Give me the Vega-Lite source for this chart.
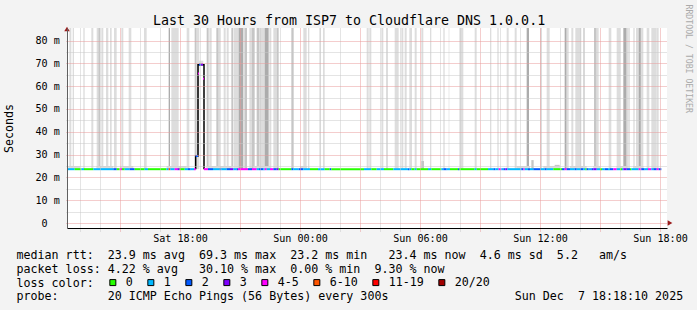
{
"$schema": "https://vega.github.io/schema/vega-lite/v6.json",
"width": 600, "height": 200,
"autosize": {"type": "none"},
"padding": {"left": 67, "top": 28, "right": 30, "bottom": 82},
"background": "#f3f3f3",
"datasets": {
"smoke": [
{"t":748,"t2":754,"lo":23.6,"hi":90,"shade":"L"},{"t":758,"t2":762,"lo":23.6,"hi":90,"shade":"L"},{"t":790,"t2":794,"lo":23.6,"hi":90,"shade":"L"},{"t":814,"t2":820,"lo":23.6,"hi":90,"shade":"L"},{"t":830,"t2":835,"lo":23.6,"hi":90,"shade":"L"},{"t":835,"t2":840,"lo":23.6,"hi":90,"shade":"M"},{"t":844,"t2":850,"lo":23.6,"hi":90,"shade":"L"},{"t":858,"t2":865,"lo":23.6,"hi":90,"shade":"L"},{"t":870,"t2":875,"lo":23.6,"hi":90,"shade":"L"},{"t":882,"t2":890,"lo":23.6,"hi":90,"shade":"L"},{"t":904,"t2":910,"lo":23.6,"hi":90,"shade":"L"},{"t":926,"t2":934,"lo":23.6,"hi":90,"shade":"L"},{"t":972,"t2":980,"lo":23.6,"hi":90,"shade":"L"},{"t":1046,"t2":1050,"lo":23.6,"hi":90,"shade":"D"},{"t":1054,"t2":1076,"lo":23.6,"hi":90,"shade":"L"},{"t":1100,"t2":1108,"lo":23.6,"hi":90,"shade":"L"},{"t":1124,"t2":1130,"lo":23.6,"hi":90,"shade":"M"},{"t":1130,"t2":1138,"lo":23.6,"hi":90,"shade":"L"},{"t":1160,"t2":1166,"lo":23.6,"hi":90,"shade":"M"},{"t":1168,"t2":1175,"lo":23.6,"hi":90,"shade":"L"},
{"t":1189,"t2":1196,"lo":23.6,"hi":90,"shade":"M"},{"t":1197,"t2":1200,"lo":23.6,"hi":90,"shade":"L"},{"t":1211,"t2":1217,"lo":23.6,"hi":90,"shade":"L"},{"t":1220,"t2":1226,"lo":23.6,"hi":90,"shade":"L"},{"t":1234,"t2":1240,"lo":23.6,"hi":90,"shade":"M"},{"t":1242,"t2":1256,"lo":23.6,"hi":90,"shade":"L"},{"t":1256,"t2":1270,"lo":23.6,"hi":90,"shade":"D"},{"t":1270,"t2":1274,"lo":23.6,"hi":90,"shade":"L"},{"t":1274,"t2":1281,"lo":23.6,"hi":90,"shade":"M"},{"t":1288,"t2":1296,"lo":23.6,"hi":90,"shade":"L"},{"t":1296,"t2":1304,"lo":23.6,"hi":90,"shade":"M"},{"t":1310,"t2":1317,"lo":23.6,"hi":90,"shade":"M"},{"t":1317,"t2":1334,"lo":23.6,"hi":90,"shade":"L"},{"t":1334,"t2":1346,"lo":23.6,"hi":90,"shade":"D"},{"t":1348,"t2":1354,"lo":23.6,"hi":90,"shade":"L"},{"t":1360,"t2":1370,"lo":23.6,"hi":90,"shade":"L"},{"t":1370,"t2":1376,"lo":23.6,"hi":90,"shade":"M"},{"t":1414,"t2":1421,"lo":23.6,"hi":90,"shade":"M"},{"t":1450,"t2":1460,"lo":23.6,"hi":90,"shade":"L"},{"t":1464,"t2":1468,"lo":23.6,"hi":90,"shade":"L"},{"t":1498,"t2":1502,"lo":23.6,"hi":90,"shade":"L"},{"t":1509,"t2":1514,"lo":23.6,"hi":90,"shade":"L"},
{"t":1640,"t2":1646,"lo":23.6,"hi":90,"shade":"L"},{"t":1648,"t2":1654,"lo":23.6,"hi":90,"shade":"L"},{"t":1684,"t2":1690,"lo":23.6,"hi":90,"shade":"L"},{"t":1698,"t2":1704,"lo":23.6,"hi":90,"shade":"L"},{"t":1724,"t2":1736,"lo":23.6,"hi":90,"shade":"L"},{"t":1744,"t2":1750,"lo":23.6,"hi":90,"shade":"L"},{"t":1754,"t2":1760,"lo":23.6,"hi":90,"shade":"L"},{"t":1768,"t2":1776,"lo":23.6,"hi":90,"shade":"L"},{"t":1784,"t2":1790,"lo":23.6,"hi":90,"shade":"L"},{"t":1804,"t2":1810,"lo":23.6,"hi":90,"shade":"L"},{"t":1830,"t2":1834,"lo":23.6,"hi":90,"shade":"L"},{"t":1870,"t2":1874,"lo":23.6,"hi":90,"shade":"L"},{"t":1886,"t2":1888,"lo":23.6,"hi":90,"shade":"L"},{"t":1918,"t2":1930,"lo":23.6,"hi":90,"shade":"L"},{"t":1964,"t2":1970,"lo":23.6,"hi":90,"shade":"L"},{"t":2010,"t2":2014,"lo":23.6,"hi":90,"shade":"L"},{"t":2032,"t2":2036,"lo":23.6,"hi":90,"shade":"L"},{"t":2060,"t2":2066,"lo":23.6,"hi":90,"shade":"L"},
{"t":2084,"t2":2090,"lo":23.6,"hi":90,"shade":"L"},{"t":2120,"t2":2127,"lo":23.6,"hi":90,"shade":"D"},{"t":2160,"t2":2166,"lo":23.6,"hi":90,"shade":"L"},{"t":2180,"t2":2189,"lo":23.6,"hi":90,"shade":"L"},{"t":2234,"t2":2240,"lo":23.6,"hi":90,"shade":"D"},{"t":2240,"t2":2246,"lo":23.6,"hi":90,"shade":"L"},{"t":2254,"t2":2260,"lo":23.6,"hi":90,"shade":"L"},{"t":2266,"t2":2284,"lo":23.6,"hi":90,"shade":"L"},{"t":2290,"t2":2294,"lo":23.6,"hi":90,"shade":"M"},{"t":2322,"t2":2330,"lo":23.6,"hi":90,"shade":"M"},{"t":2330,"t2":2336,"lo":23.6,"hi":90,"shade":"L"},{"t":2366,"t2":2374,"lo":23.6,"hi":90,"shade":"L"},{"t":2390,"t2":2400,"lo":23.6,"hi":90,"shade":"L"},{"t":2410,"t2":2420,"lo":23.6,"hi":90,"shade":"D"},{"t":2420,"t2":2424,"lo":23.6,"hi":90,"shade":"L"},{"t":2426,"t2":2428,"lo":23.6,"hi":90,"shade":"D"},{"t":2440,"t2":2444,"lo":23.6,"hi":90,"shade":"L"},{"t":2448,"t2":2456,"lo":23.6,"hi":90,"shade":"L"},{"t":2456,"t2":2464,"lo":23.6,"hi":90,"shade":"D"},{"t":2464,"t2":2470,"lo":23.6,"hi":90,"shade":"L"},{"t":2480,"t2":2488,"lo":23.6,"hi":90,"shade":"L"},{"t":2494,"t2":2510,"lo":23.6,"hi":90,"shade":"L"},{"t":2510,"t2":2516,"lo":23.6,"hi":90,"shade":"L"},
{"t":1137,"t2":1150,"lo":69.5,"hi":71.2,"shade":"L"},{"t":1804,"t2":1812,"lo":23.6,"hi":27.2,"shade":"M"},{"t":2134,"t2":2141,"lo":23.6,"hi":27.6,"shade":"M"},{"t":2204,"t2":2219,"lo":23.6,"hi":25.5,"shade":"M"},
{"t":745,"t2":780,"lo":23.6,"hi":25.0,"shade":"L"},{"t":830,"t2":880,"lo":23.6,"hi":25.0,"shade":"L"},{"t":900,"t2":940,"lo":23.6,"hi":25.0,"shade":"L"},{"t":1040,"t2":1100,"lo":23.6,"hi":25.0,"shade":"L"},{"t":1160,"t2":1240,"lo":23.6,"hi":25.0,"shade":"L"},{"t":1300,"t2":1350,"lo":23.6,"hi":25.0,"shade":"L"},{"t":1440,"t2":1460,"lo":23.6,"hi":25.0,"shade":"L"},{"t":2090,"t2":2130,"lo":23.6,"hi":25.0,"shade":"L"},{"t":2170,"t2":2220,"lo":23.6,"hi":25.0,"shade":"L"},{"t":2250,"t2":2300,"lo":23.6,"hi":25.0,"shade":"L"},{"t":2320,"t2":2340,"lo":23.6,"hi":25.0,"shade":"L"},{"t":2390,"t2":2420,"lo":23.6,"hi":25.0,"shade":"L"},{"t":2440,"t2":2470,"lo":23.6,"hi":25.0,"shade":"L"}
],
"median": [
{"t":741,"t2":764,"rtt":23.6,"loss":"1"},{"t":764,"t2":784,"rtt":23.6,"loss":"0"},{"t":784,"t2":792,"rtt":23.6,"loss":"1"},{"t":792,"t2":820,"rtt":23.6,"loss":"0"},{"t":820,"t2":880,"rtt":23.6,"loss":"1"},{"t":880,"t2":890,"rtt":23.6,"loss":"2"},{"t":890,"t2":899,"rtt":23.6,"loss":"0"},{"t":899,"t2":906,"rtt":23.6,"loss":"4-5"},{"t":906,"t2":914,"rtt":23.6,"loss":"0"},{"t":914,"t2":929,"rtt":23.6,"loss":"1"},{"t":929,"t2":944,"rtt":23.6,"loss":"2"},{"t":944,"t2":974,"rtt":23.6,"loss":"0"},{"t":974,"t2":984,"rtt":23.6,"loss":"1"},{"t":984,"t2":1039,"rtt":23.6,"loss":"0"},{"t":1039,"t2":1046,"rtt":23.6,"loss":"1"},{"t":1046,"t2":1051,"rtt":23.6,"loss":"6-10"},{"t":1051,"t2":1064,"rtt":23.6,"loss":"1"},{"t":1064,"t2":1072,"rtt":23.6,"loss":"4-5"},{"t":1072,"t2":1079,"rtt":23.6,"loss":"3"},{"t":1079,"t2":1094,"rtt":23.6,"loss":"0"},{"t":1094,"t2":1104,"rtt":23.6,"loss":"1"},{"t":1104,"t2":1112,"rtt":23.6,"loss":"2"},{"t":1112,"t2":1122,"rtt":23.6,"loss":"1"},{"t":1122,"t2":1127,"rtt":23.6,"loss":"4-5"},
{"t":1127,"t2":1134,"rtt":29.4,"loss":"2"},{"t":1134,"t2":1137,"rtt":65.6,"loss":"4-5"},{"t":1137,"t2":1143,"rtt":69.5,"loss":"2"},{"t":1143,"t2":1149,"rtt":69.5,"loss":"3"},{"t":1149,"t2":1152,"rtt":63.3,"loss":"4-5"},
{"t":1152,"t2":1164,"rtt":23.6,"loss":"4-5"},{"t":1164,"t2":1179,"rtt":23.6,"loss":"2"},{"t":1179,"t2":1199,"rtt":23.6,"loss":"1"},{"t":1199,"t2":1204,"rtt":23.6,"loss":"2"},{"t":1204,"t2":1220,"rtt":23.6,"loss":"1"},{"t":1220,"t2":1230,"rtt":23.6,"loss":"2"},{"t":1230,"t2":1240,"rtt":23.6,"loss":"3"},{"t":1240,"t2":1250,"rtt":23.6,"loss":"1"},{"t":1250,"t2":1254,"rtt":23.6,"loss":"2"},{"t":1254,"t2":1284,"rtt":23.6,"loss":"4-5"},{"t":1284,"t2":1296,"rtt":23.6,"loss":"2"},{"t":1296,"t2":1310,"rtt":23.6,"loss":"4-5"},{"t":1310,"t2":1317,"rtt":23.6,"loss":"1"},{"t":1317,"t2":1330,"rtt":23.6,"loss":"2"},{"t":1330,"t2":1334,"rtt":23.6,"loss":"1"},{"t":1334,"t2":1340,"rtt":23.6,"loss":"4-5"},{"t":1340,"t2":1350,"rtt":23.6,"loss":"1"},{"t":1350,"t2":1360,"rtt":23.6,"loss":"4-5"},{"t":1360,"t2":1370,"rtt":23.6,"loss":"2"},{"t":1370,"t2":1376,"rtt":23.6,"loss":"3"},{"t":1376,"t2":1414,"rtt":23.6,"loss":"0"},{"t":1414,"t2":1420,"rtt":23.6,"loss":"2"},{"t":1420,"t2":1436,"rtt":23.6,"loss":"1"},{"t":1436,"t2":1450,"rtt":23.6,"loss":"2"},{"t":1450,"t2":1470,"rtt":23.6,"loss":"1"},{"t":1470,"t2":1494,"rtt":23.6,"loss":"0"},{"t":1494,"t2":1514,"rtt":23.6,"loss":"1"},{"t":1514,"t2":1529,"rtt":23.6,"loss":"0"},{"t":1529,"t2":1534,"rtt":23.6,"loss":"2"},{"t":1534,"t2":1632,"rtt":23.6,"loss":"0"},
{"t":1632,"t2":1654,"rtt":23.6,"loss":"1"},{"t":1654,"t2":1670,"rtt":23.6,"loss":"0"},{"t":1670,"t2":1692,"rtt":23.6,"loss":"1"},{"t":1692,"t2":1720,"rtt":23.6,"loss":"0"},{"t":1720,"t2":1764,"rtt":23.6,"loss":"1"},{"t":1764,"t2":1768,"rtt":23.6,"loss":"2"},{"t":1768,"t2":1774,"rtt":23.6,"loss":"1"},{"t":1774,"t2":1784,"rtt":23.6,"loss":"0"},{"t":1784,"t2":1790,"rtt":23.6,"loss":"1"},{"t":1790,"t2":1824,"rtt":23.6,"loss":"0"},{"t":1824,"t2":1834,"rtt":23.6,"loss":"1"},{"t":1834,"t2":1864,"rtt":23.6,"loss":"0"},{"t":1864,"t2":1870,"rtt":23.6,"loss":"1"},{"t":1870,"t2":1880,"rtt":23.6,"loss":"2"},{"t":1880,"t2":1890,"rtt":23.6,"loss":"1"},{"t":1890,"t2":1914,"rtt":23.6,"loss":"0"},{"t":1914,"t2":1918,"rtt":23.6,"loss":"2"},{"t":1918,"t2":1964,"rtt":23.6,"loss":"0"},{"t":1964,"t2":1970,"rtt":23.6,"loss":"1"},{"t":1970,"t2":2004,"rtt":23.6,"loss":"0"},{"t":2004,"t2":2020,"rtt":23.6,"loss":"1"},{"t":2020,"t2":2026,"rtt":23.6,"loss":"2"},{"t":2026,"t2":2036,"rtt":23.6,"loss":"1"},{"t":2036,"t2":2044,"rtt":23.6,"loss":"4-5"},{"t":2044,"t2":2050,"rtt":23.6,"loss":"1"},{"t":2050,"t2":2056,"rtt":23.6,"loss":"2"},{"t":2056,"t2":2062,"rtt":23.6,"loss":"3"},{"t":2062,"t2":2104,"rtt":23.6,"loss":"1"},
{"t":2104,"t2":2110,"rtt":23.6,"loss":"2"},{"t":2110,"t2":2114,"rtt":23.6,"loss":"4-5"},{"t":2114,"t2":2124,"rtt":23.6,"loss":"1"},{"t":2124,"t2":2130,"rtt":23.6,"loss":"2"},{"t":2130,"t2":2140,"rtt":23.6,"loss":"1"},{"t":2140,"t2":2160,"rtt":23.6,"loss":"2"},{"t":2160,"t2":2174,"rtt":23.6,"loss":"1"},{"t":2174,"t2":2180,"rtt":23.6,"loss":"2"},{"t":2180,"t2":2200,"rtt":23.6,"loss":"1"},{"t":2200,"t2":2226,"rtt":23.6,"loss":"0"},{"t":2226,"t2":2234,"rtt":23.6,"loss":"2"},{"t":2234,"t2":2240,"rtt":23.6,"loss":"4-5"},{"t":2240,"t2":2250,"rtt":23.6,"loss":"2"},{"t":2250,"t2":2264,"rtt":23.6,"loss":"1"},{"t":2264,"t2":2270,"rtt":23.6,"loss":"2"},{"t":2270,"t2":2280,"rtt":23.6,"loss":"1"},{"t":2280,"t2":2290,"rtt":23.6,"loss":"2"},{"t":2290,"t2":2296,"rtt":23.6,"loss":"1"},{"t":2296,"t2":2300,"rtt":23.6,"loss":"0"},{"t":2300,"t2":2306,"rtt":23.6,"loss":"2"},{"t":2306,"t2":2314,"rtt":23.6,"loss":"1"},{"t":2314,"t2":2320,"rtt":23.6,"loss":"2"},{"t":2320,"t2":2330,"rtt":23.6,"loss":"3"},{"t":2330,"t2":2340,"rtt":23.6,"loss":"1"},{"t":2340,"t2":2346,"rtt":23.6,"loss":"0"},{"t":2346,"t2":2354,"rtt":23.6,"loss":"1"},{"t":2354,"t2":2364,"rtt":23.6,"loss":"2"},{"t":2364,"t2":2370,"rtt":23.6,"loss":"1"},{"t":2370,"t2":2380,"rtt":23.6,"loss":"2"},{"t":2380,"t2":2390,"rtt":23.6,"loss":"4-5"},{"t":2390,"t2":2400,"rtt":23.6,"loss":"1"},{"t":2400,"t2":2406,"rtt":23.6,"loss":"0"},{"t":2406,"t2":2410,"rtt":23.6,"loss":"1"},{"t":2410,"t2":2420,"rtt":23.6,"loss":"3"},{"t":2420,"t2":2430,"rtt":23.6,"loss":"2"},{"t":2430,"t2":2434,"rtt":23.6,"loss":"0"},{"t":2434,"t2":2456,"rtt":23.6,"loss":"1"},{"t":2456,"t2":2464,"rtt":23.6,"loss":"4-5"},{"t":2464,"t2":2474,"rtt":23.6,"loss":"2"},{"t":2474,"t2":2484,"rtt":23.6,"loss":"1"},{"t":2484,"t2":2494,"rtt":23.6,"loss":"4-5"},{"t":2494,"t2":2500,"rtt":23.6,"loss":"1"},{"t":2500,"t2":2510,"rtt":23.6,"loss":"2"},{"t":2510,"t2":2516,"rtt":23.6,"loss":"4-5"},{"t":2516,"t2":2524,"rtt":23.6,"loss":"2"}
],
"peak": [
{"i":0,"t":1127,"rtt":23.6},{"i":1,"t":1127,"rtt":29.4},{"i":2,"t":1134,"rtt":29.4},{"i":3,"t":1134,"rtt":69.4},{"i":4,"t":1152,"rtt":69.4},{"i":5,"t":1152,"rtt":23.6}
]
},
"resolve": {"axis": {"x": "independent", "y": "independent"}},
"layer": [
{
"data": {"name": "smoke"},
"mark": {"type": "rect", "clip": true},
"encoding": {
"x": {"field": "t", "type": "quantitative", "scale": {"domain": [741, 2541], "nice": false, "zero": false},
 "axis": {
  "values": [780,840,900,960,1020,1080,1140,1200,1260,1320,1380,1440,1500,1560,1620,1680,1740,1800,1860,1920,1980,2040,2100,2160,2220,2280,2340,2400,2460,2520],
  "labelExpr": "datum.value === 1080 ? 'Sat 18:00' : datum.value === 1440 ? 'Sun 00:00' : datum.value === 1800 ? 'Sun 06:00' : datum.value === 2160 ? 'Sun 12:00' : datum.value === 2520 ? 'Sun 18:00' : ''",
  "labelFont": "DejaVu Sans Mono", "labelFontSize": 10.1, "labelColor": "#000000", "labelPadding": 2, "labelFlush": false, "labelOverlap": false,
  "tickSize": 3, "tickDash": [1,1],
  "tickColor": {"condition": {"test": "datum.value % 180 === 0", "value": "#e89a9a"}, "value": "#c8c8c8"},
  "grid": true, "gridDash": [1,1],
  "gridColor": {"condition": {"test": "datum.value % 180 === 0", "value": "#e89a9a"}, "value": "#c8c8c8"},
  "domainColor": "#000000",
  "title": ["median rtt:\u00a0\u00a023.9 ms avg\u00a0\u00a069.3 ms max\u00a0\u00a023.2 ms min\u00a0\u00a0\u00a023.4 ms now\u00a0\u00a04.6 ms sd\u00a0\u00a05.2\u00a0\u00a0\u00a0am/s", "packet loss: 4.22 % avg\u00a0\u00a0\u00a030.10 % max\u00a0\u00a00.00 % min\u00a0\u00a09.30 % now", "loss color:", "probe:\u00a0\u00a0\u00a0\u00a0\u00a0\u00a0\u00a020 ICMP Echo Pings (56 Bytes) every 300s\u00a0\u00a0\u00a0\u00a0\u00a0\u00a0\u00a0\u00a0\u00a0\u00a0\u00a0\u00a0\u00a0\u00a0\u00a0\u00a0\u00a0\u00a0Sun Dec\u00a0\u00a07 18:18:10 2025"],
  "titleFont": "DejaVu Sans Mono", "titleFontSize": 11.66, "titleFontWeight": "normal", "titleColor": "#000000",
  "titleAnchor": "start", "titleAlign": "left", "titleBaseline": "alphabetic", "titleX": -51, "titleY": 30.7, "titleLineHeight": 13.7,
  "zindex": 1
 }},
"x2": {"field": "t2"},
"y": {"field": "lo", "type": "quantitative", "scale": {"domain": [0, 83.33333], "nice": false, "zero": true},
 "axis": {
  "values": [0,5,10,15,20,25,30,35,40,45,50,55,60,65,70,75,80],
  "labelExpr": "datum.value % 10 === 0 ? (datum.value === 0 ? '0\u00a0\u00a0\u200b' : datum.value + ' m') : ''",
  "labelFont": "DejaVu Sans Mono", "labelFontSize": 10.1, "labelColor": "#000000", "labelPadding": 5.7, "labelOverlap": false, "labelFlush": false,
  "tickSize": 2, "tickDash": [1,1],
  "tickColor": {"condition": {"test": "datum.value % 10 === 0", "value": "#e89a9a"}, "value": "#c8c8c8"},
  "grid": true, "gridDash": [1,1],
  "gridColor": {"condition": {"test": "datum.value % 10 === 0", "value": "#e89a9a"}, "value": "#c8c8c8"},
  "domainColor": "#606060",
  "title": "Seconds", "titleFont": "DejaVu Sans Mono", "titleFontSize": 11.66, "titleFontWeight": "normal", "titleColor": "#000000",
  "titleAngle": 270, "titleAlign": "center", "titleBaseline": "middle", "titleX": -57.5, "titleY": 100,
  "zindex": 1
 }},
"y2": {"field": "hi"},
"fill": {"field": "shade", "type": "nominal", "scale": {"domain": ["L","M","D"], "range": ["#dddddd","#c6c6c6","#acacac"]}, "legend": null}
}
},
{
"data": {"name": "peak"},
"mark": {"type": "line", "color": "#000000", "strokeWidth": 1.5},
"encoding": {
"x": {"field": "t", "type": "quantitative", "axis": null},
"y": {"field": "rtt", "type": "quantitative", "axis": null},
"order": {"field": "i", "type": "quantitative"}
}
},
{
"data": {"name": "median"},
"mark": {"type": "bar", "orient": "horizontal", "size": 2},
"encoding": {
"x": {"field": "t", "type": "quantitative", "axis": null},
"x2": {"field": "t2"},
"y": {"field": "rtt", "type": "quantitative", "axis": null},
"color": {"field": "loss", "type": "nominal",
 "scale": {"domain": ["0","1","2","3","4-5","6-10","11-19","20/20"], "range": ["#26ff00","#00b8ff","#0059ff","#7e00ff","#ff00ff","#ff5500","#ff0000","#a10000"]},
 "legend": {
  "orient": "none", "legendX": 40, "legendY": 248.5, "direction": "horizontal",
  "title": null,
  "labelFont": "DejaVu Sans Mono", "labelFontSize": 11.66, "labelColor": "#000000", "labelOffset": 7,
  "columnPadding": 12, "padding": 0,
  "symbolType": "square", "symbolSize": 36, "symbolStrokeColor": "#000000", "symbolStrokeWidth": 1, "symbolOpacity": 1
 }}
}
},
{
"data": {"values": [{}]},
"mark": {"type": "point", "shape": "triangle-right", "filled": true, "color": "#9b1b1b", "opacity": 1, "size": 30, "xOffset": 3},
"encoding": {
"x": {"datum": 2541, "axis": {"orient": "top", "title": "Last 30 Hours from ISP7 to Cloudflare DNS 1.0.0.1", "labels": false, "ticks": false, "domain": false, "grid": false,
  "titleFont": "DejaVu Sans Mono", "titleFontSize": 13.3, "titleFontWeight": "normal", "titleColor": "#000000",
  "titleX": 281.5, "titleY": -4, "titleAlign": "center", "titleAnchor": "middle", "titleBaseline": "alphabetic"}},
"y": {"datum": 0, "axis": null}
}
},
{
"data": {"values": [{}]},
"mark": {"type": "point", "shape": "triangle-up", "filled": true, "color": "#9b1b1b", "opacity": 1, "size": 30, "yOffset": -4},
"encoding": {
"x": {"datum": 741, "axis": null},
"y": {"datum": 83.33333, "axis": {"orient": "right", "title": "RRDTOOL / TOBI OETIKER", "labels": false, "ticks": false, "domain": false, "grid": false,
  "titleFont": "DejaVu Sans Mono", "titleFontSize": 8.2, "titleFontWeight": "normal", "titleColor": "#aaaaaa",
  "titleAngle": 90, "titleX": 20.5, "titleY": -24, "titleAlign": "left", "titleBaseline": "middle"}}
}
}
],
"config": {"view": {"fill": "#ffffff", "stroke": null}, "font": "DejaVu Sans Mono"}
}
